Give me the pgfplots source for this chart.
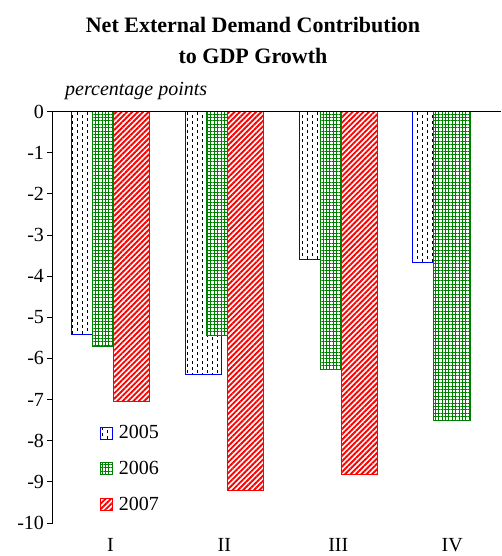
\documentclass[border=0pt]{standalone}
\usepackage{fontspec}
\setmainfont{Liberation Serif}
\usepackage{pgfplots}
\pgfplotsset{compat=1.18}
\usetikzlibrary{patterns,patterns.meta}

\pgfdeclarepatternformonly{vdash}{\pgfqpoint{-1pt}{-1pt}}{\pgfqpoint{11pt}{7pt}}{\pgfqpoint{10pt}{6pt}}{%
  \pgfsetlinewidth{0.9pt}%
  \pgfpathmoveto{\pgfqpoint{2.5pt}{0.2pt}}\pgfpathlineto{\pgfqpoint{2.5pt}{3.0pt}}%
  \pgfpathmoveto{\pgfqpoint{7.5pt}{3.2pt}}\pgfpathlineto{\pgfqpoint{7.5pt}{6.0pt}}%
  \pgfusepath{stroke}}

\definecolor{cblue}{RGB}{0,0,255}
\definecolor{cgreen}{RGB}{0,128,0}
\definecolor{cred}{RGB}{255,0,0}

\begin{document}
\begin{tikzpicture}[x=1pt,y=1pt]
\useasboundingbox (0,0) rectangle (501,556);
\node[anchor=base, inner sep=0pt, font=\fontsize{22}{26}\selectfont\bfseries] at (253,523) {Net External Demand Contribution};
\node[anchor=base, inner sep=0pt, font=\fontsize{22}{26}\selectfont\bfseries] at (253,492) {to GDP Growth};
\node[anchor=base west, inner sep=0pt, font=\fontsize{20}{24}\selectfont\itshape] at (65,460) {percentage points};
\begin{axis}[
  at={(52.5pt,33pt)}, anchor=south west,
  scale only axis, width=448.5pt, height=411.5pt,
  xmin=-0.509, xmax=3.428, ymin=-10, ymax=0,
  axis y line*=left, axis x line*=bottom,
  x axis line style={draw=none},
  y axis line style={black, line width=0.8pt},
  tick align=outside,
  xtick={0,1,2,3}, xticklabels={I,II,III,IV},
  xtick style={draw=none},
  xticklabel style={anchor=base, yshift=-23pt},
  ytick={-10,-9,...,0},
  yticklabels={-10,-9,-8,-7,-6,-5,-4,-3,-2,-1,0},
  ytick style={black, line width=0.8pt},
  major tick length=5pt,
  ticklabel style={font=\fontsize{20}{24}\selectfont},
  legend style={at={(axis cs:-0.095,-7.58)}, anchor=north west, draw=none, fill=none,
    inner sep=0pt, row sep=17pt, column sep=4pt,
    font=\fontsize{20}{24}\selectfont},
  legend cell align=left,
  legend image code/.code={\draw[#1] (0pt,-6pt) rectangle (12pt,6pt);},
]
\addplot[ybar, bar width=36.5pt, bar shift=-21pt, draw=cblue, line width=1pt,
  preaction={fill=white}, preaction={pattern=vdash, pattern color=black}]
  coordinates {(0,-5.41) (1,-6.38) (2,-3.60) (3,-3.66)};
\addlegendentry{2005}
\addplot[ybar, bar width=36.5pt, bar shift=0pt, draw=cgreen, line width=1pt,
  preaction={fill=white}, preaction={pattern={Hatch[angle=0,distance=3.4pt,line width=0.7pt]}, pattern color=cgreen}]
  coordinates {(0,-5.71) (1,-5.44) (2,-6.26) (3,-7.52)};
\addlegendentry{2006}
\addplot[ybar, bar width=36.5pt, bar shift=21pt, draw=cred, line width=1pt,
  preaction={fill=white}, preaction={pattern={Lines[angle=45,distance=3.8pt,line width=1.9pt]}, pattern color=cred}]
  coordinates {(0,-7.04) (1,-9.22) (2,-8.83)};
\addlegendentry{2007}
\draw[black, line width=0.8pt] (axis cs:-0.509,0) -- (axis cs:3.428,0);
\draw[black, line width=0.8pt] (axis cs:0.5,0) -- ++(0,-5pt);
\draw[black, line width=0.8pt] (axis cs:1.5,0) -- ++(0,-5pt);
\draw[black, line width=0.8pt] (axis cs:2.5,0) -- ++(0,-5pt);
\end{axis}
\end{tikzpicture}
\end{document}
